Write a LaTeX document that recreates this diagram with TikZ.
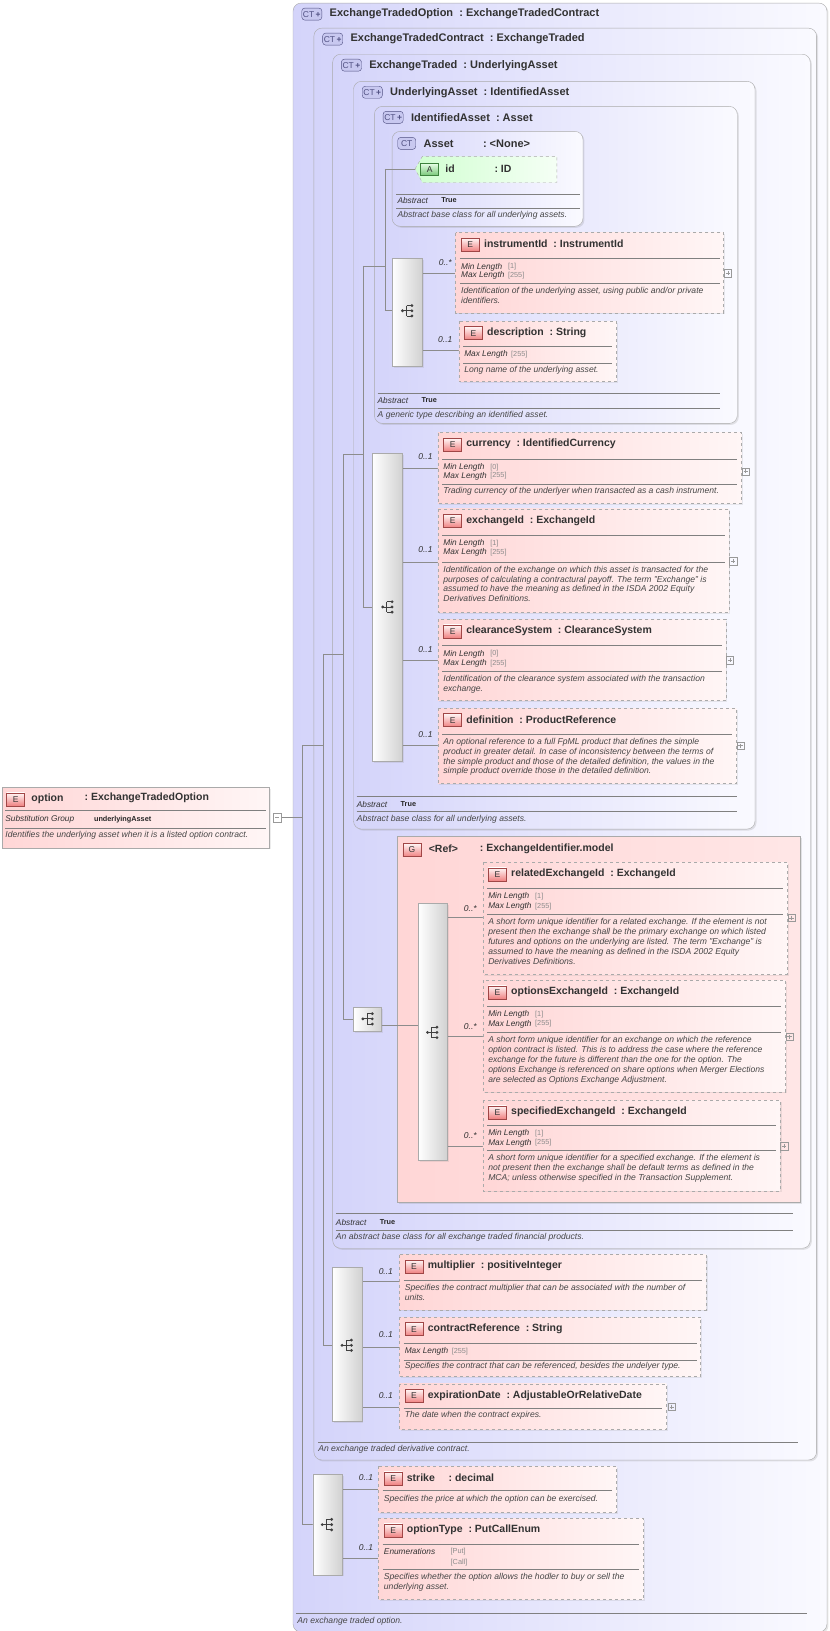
\documentclass[tikz,border=0pt]{standalone}
\usepackage{fontspec}
\setmainfont{Liberation Sans}
\usetikzlibrary{shadows}
\definecolor{lav}{RGB}{212,212,250}
\definecolor{lavR}{RGB}{250,250,255}
\definecolor{pinkL}{RGB}{255,214,214}
\definecolor{pinkR}{RGB}{255,246,246}
\definecolor{txt}{RGB}{50,50,50}
\definecolor{dtxt}{RGB}{70,70,70}
\definecolor{bdr}{RGB}{170,170,170}
\definecolor{ctb}{RGB}{200,200,240}
\definecolor{ctd}{RGB}{80,80,130}
\definecolor{eb}{RGB}{240,130,130}
\definecolor{ebd}{RGB}{160,70,70}
\definecolor{gb}{RGB}{120,200,120}
\definecolor{gbd}{RGB}{60,130,60}
\newcommand{\ctbox}[6]{%
  \draw[cont] (#1,#2) rectangle (#3,#4);
  \node[ctbadge] (#5b) at (#1+18,#2+10.5) {CT\,{\bfseries\textcolor{ctd}{+}}};
  \node[ctitle] (#5) at (#1+35,#2+10.5) {#6};}
\newcommand{\ebox}[6]{%
  \draw[elem] (#1,#2) rectangle (#3,#4);
  \node[ebadge] (#5b) at (#1+14,#2+11.5) {E};
  \node[etitle] (#5) at (#1+27,#2+11) {#6};}
\newcommand{\sepl}[3]{\draw[sepline] (#1,#3) -- (#2,#3);}
\newcommand{\prp}[5]{\node[propk] (#5k) at (#1+5,#2) {#3};\node[propv] (#5v) at (#1+50,#2) {#4};}
\newcommand{\dsc}[4]{\node[desc] (#4) at (#1+5,#2-4.5) {#3};}
\newcommand{\mlt}[4]{\node[mult] (#4) at (#1,#2) {#3};}
\newcommand{\pbtn}[2]{\draw[btn] (#1-3.5,#2-3.5) rectangle (#1+3.5,#2+3.5); \draw[btn] (#1-2,#2)--(#1+2,#2) (#1,#2-2)--(#1,#2+2);}
\newcommand{\abst}[3]{\node[propk] (#3a) at (#1,#2) {Abstract}; \node[truev] (#3t) at (#1+42,#2) {True};}
\newcommand{\sqbox}[6]{%
  \draw[seq] (#1,#2) rectangle (#3,#4);
  \coordinate (#6) at (#5);
  \fill[black!75] ($(#6)+(-5,0)$) circle (1.5);
  \draw[black!75,line width=0.8pt] ($(#6)+(-5,0)$) -- ($(#6)+(-1,0)$) ($(#6)+(-1,-5)$) -- ($(#6)+(-1,5)$)
     ($(#6)+(-1,-5)$) -- ($(#6)+(4,-5)$) ($(#6)+(-1,0)$) -- ($(#6)+(4,0)$) ($(#6)+(-1,5)$) -- ($(#6)+(4,5)$);
  \fill[black!75] ($(#6)+(4,-5)$) circle (1.5) ($(#6)+(4,0)$) circle (1.5) ($(#6)+(4,5)$) circle (1.5);}
\usetikzlibrary{calc}
\begin{document}
\begin{tikzpicture}[x=1.043pt,y=-1.043pt,
  cont/.style={rounded corners=8pt,draw=bdr,left color=lav,right color=lavR,drop shadow={opacity=0.2,shadow xshift=1.5pt,shadow yshift=-1.5pt}},
  elem/.style={dashed,draw=bdr,line width=0.6pt,left color=pinkL,right color=pinkR,drop shadow={opacity=0.15,shadow xshift=1.5pt,shadow yshift=-1.5pt}},
  seq/.style={draw=bdr,left color=white,right color=black!18,drop shadow={opacity=0.15,shadow xshift=1.5pt,shadow yshift=-1.5pt}},
  ctbadge/.style={draw=ctd,rounded corners=3pt,fill=ctb,font=\fontsize{8.5}{9}\selectfont,text=ctd,inner sep=1.2pt,minimum height=12pt},
  ebadge/.style={draw=ebd,top color=pinkR,bottom color=eb,font=\fontsize{8.5}{9}\selectfont,text=txt,minimum width=18pt,minimum height=13pt,inner sep=0pt},
  ctitle/.style={anchor=west,font=\fontsize{11}{13}\selectfont\bfseries,text=txt,inner sep=0pt},
  etitle/.style={anchor=west,font=\fontsize{10.5}{12}\selectfont\bfseries,text=txt,inner sep=0pt},
  sepline/.style={draw=black!50,line width=0.5pt},
  propk/.style={anchor=west,font=\fontsize{8.3}{10}\selectfont\itshape,text=txt,inner sep=0pt},
  propv/.style={anchor=west,font=\fontsize{7.3}{10}\selectfont,text=black!45,inner sep=0pt},
  truev/.style={anchor=west,font=\fontsize{7.3}{10}\selectfont\bfseries,text=black!85,inner sep=0pt},
  desc/.style={anchor=north west,align=left,font=\fontsize{8.6}{9.9}\selectfont\itshape,text=dtxt,inner sep=0pt},
  mult/.style={font=\fontsize{8.5}{10}\selectfont\itshape,text=txt,inner sep=0pt},
  btn/.style={draw=black!40,line width=0.4pt},
  conn/.style={draw=black!45,line width=0.6pt}]
\useasboundingbox (0,0) rectangle (795,1564);
\fill[white] (0,0) rectangle (795,1564);
% containers
\ctbox{281}{3}{793}{1565}{c1}{ExchangeTradedOption\ \ :\ ExchangeTradedContract}
\ctbox{301}{27}{783}{1400}{c2}{ExchangeTradedContract\ \ :\ ExchangeTraded}
\ctbox{319}{52}{777}{1197}{c3}{ExchangeTraded\ \ :\ UnderlyingAsset}
\ctbox{339}{78}{724}{795}{c4}{UnderlyingAsset\ \ :\ IdentifiedAsset}
\ctbox{359}{102}{707}{406}{c5}{IdentifiedAsset\ \ :\ Asset}
% Asset
\draw[cont] (376,126) rectangle (559,217);
\node[ctbadge,minimum width=18pt] (assetb) at (390,137.5) {CT};
\node[ctitle] (asset) at (406,137.5) {Asset};
\node[ctitle] (assett) at (463,137.5) {:\ <None>};
\sepl{380}{556}{186}\sepl{380}{556}{200}
\abst{381}{192}{as}\dsc{376}{207}{Abstract base class for all underlying assets.}{asd}
% footers
\sepl{362}{690}{377}\sepl{362}{690}{391}\abst{362}{384}{c5}\dsc{357}{399}{A generic type describing an identified asset.}{c5d}
\sepl{342}{707}{764}\sepl{342}{707}{778}\abst{342}{771}{c4}\dsc{337}{786}{Abstract base class for all underlying assets.}{c4d}
\sepl{322}{760}{1163}\sepl{322}{760}{1180}\abst{322}{1172}{c3}\dsc{317}{1187}{An abstract base class for all exchange traded financial products.}{c3d}
\sepl{305}{765}{1383}\dsc{300}{1390}{An exchange traded derivative contract.}{c2d}
\sepl{284}{774}{1547}\dsc{280}{1555}{An exchange traded option.}{c1d}
% tree connectors
\coordinate (j0) at (290,784);
\draw[conn] (270,784) -- (j0) (290,715) -- (290,1462) (290,715) -- (310,715) (290,1462) -- (300,1462);
\draw[conn] (310,627) -- (310,1290) (310,627) -- (329,627) (310,1290) -- (319,1290);
\draw[conn] (329,436) -- (329,977) (329,436) -- (348,436) (329,977) -- (339,977);
\draw[conn] (348,255) -- (348,582) (348,255) -- (369,255) (348,582) -- (357,582);
\draw[conn] (369,162) -- (369,298) (369,162) -- (398,162) (369,298) -- (376,298);
\draw[conn] (405,262) -- (437,262) (405,336) -- (440,336);
\draw[conn] (386,449) -- (420,449) (386,539) -- (420,539) (386,633) -- (420,633) (386,715) -- (420,715);
\draw[conn] (347,1229) -- (383,1229) (347,1292) -- (383,1292) (347,1349) -- (383,1349);
\draw[conn] (328,1428) -- (363,1428) (328,1494) -- (363,1494);
% id attribute
\draw[dashed,draw=bdr,left color=green!18,right color=green!4] (398,162) -- (405,150) -- (534,150) -- (534,175) -- (405,175) -- cycle;
\node[draw=gbd,top color=green!10,bottom color=gb,font=\fontsize{8.5}{9}\selectfont,text=txt,minimum width=18pt,minimum height=12pt,inner sep=0pt] (idb) at (412,162.5) {A};
\node[etitle] (id) at (427,162) {id};
\node[etitle] (idt) at (474,162) {:\ ID};
% option element
\draw[draw=bdr,left color=pinkL,right color=pinkR,drop shadow={opacity=0.15,shadow xshift=1.5pt,shadow yshift=-1.5pt}] (2,755) rectangle (258,813);
\node[ebadge] (optb) at (15,766.5) {E};
\node[etitle] (opt) at (30,765.5) {option};
\node[etitle] (optt) at (81,765.5) {:\ ExchangeTradedOption};
\sepl{5}{255}{777}\sepl{5}{255}{794}
\node[propk] (sg) at (5,786) {Substitution Group};
\node[truev] (sgv) at (90,786) {underlyingAsset};
\dsc{0}{801.5}{Identifies the underlying asset when it is a listed option contract.}{optd}
\draw[btn] (262,780) rectangle (270,788); \draw[btn] (264,784) -- (268,784);
% seq 1
\sqbox{376}{248}{405}{351}{391,298}{s1}
\ebox{437}{223}{694}{300}{e1}{instrumentId\ \ :\ InstrumentId}
\sepl{441}{690}{248}\prp{437}{256}{Min Length}{[1]}{e1a}\prp{437}{264.5}{Max Length}{[255]}{e1b}\sepl{441}{690}{272}
\dsc{437}{280}{Identification of the underlying asset, using public and/or private\\identifiers.}{e1d}
\pbtn{698}{262}\mlt{427}{252}{0..*}{m1}
\ebox{440}{308}{591}{366}{e2}{description\ \ :\ String}
\sepl{444}{587}{332}\prp{440}{340}{Max Length}{[255]}{e2a}\sepl{444}{587}{348}
\dsc{440}{356}{Long name of the underlying asset.}{e2d}\mlt{427}{326}{0..1}{m2}
% seq 2
\sqbox{357}{435}{386}{730}{372,582}{s2}
\ebox{420}{415}{711}{483}{e3}{currency\ \ :\ IdentifiedCurrency}
\sepl{424}{707}{440}\prp{420}{448}{Min Length}{[0]}{e3a}\prp{420}{456.5}{Max Length}{[255]}{e3b}\sepl{424}{707}{464}
\dsc{420}{472}{Trading currency of the underlyer when transacted as a cash instrument.}{e3d}
\pbtn{715}{452}\mlt{408}{438}{0..1}{m3}
\ebox{420}{488}{699}{587}{e4}{exchangeId\ \ :\ ExchangeId}
\sepl{424}{695}{513}\prp{420}{521}{Min Length}{[1]}{e4a}\prp{420}{530}{Max Length}{[255]}{e4b}\sepl{424}{695}{539}
\dsc{420}{547}{Identification of the exchange on which this asset is transacted for the\\purposes of calculating a contractural payoff. The term "Exchange" is\\assumed to have the meaning as defined in the ISDA 2002 Equity\\Derivatives Definitions.}{e4d}
\pbtn{703}{538}\mlt{408}{527}{0..1}{m4}
\ebox{420}{594}{696}{672}{e5}{clearanceSystem\ \ :\ ClearanceSystem}
\sepl{424}{692}{619}\prp{420}{627}{Min Length}{[0]}{e5a}\prp{420}{636}{Max Length}{[255]}{e5b}\sepl{424}{692}{644}
\dsc{420}{652}{Identification of the clearance system associated with the transaction\\exchange.}{e5d}
\pbtn{700}{633}\mlt{408}{623}{0..1}{m5}
\ebox{420}{679}{706}{751}{e6}{definition\ \ :\ ProductReference}
\sepl{424}{702}{704}
\dsc{420}{712}{An optional reference to a full FpML product that defines the simple\\product in greater detail. In case of inconsistency between the terms of\\the simple product and those of the detailed definition, the values in the\\simple product override those in the detailed definition.}{e6d}
\pbtn{710}{715}\mlt{408}{704}{0..1}{m6}
% group
\draw[draw=bdr,left color=pinkL,right color=pinkL!60!white,drop shadow={opacity=0.2,shadow xshift=2pt,shadow yshift=-2pt}] (381,802) rectangle (767,1153);
\node[ebadge] (gb) at (395,815) {G};
\node[etitle] (g) at (411,814) {<Ref>};
\node[etitle] (gt) at (460,814) {:\ ExchangeIdentifier.model};
\sqbox{339}{966}{366}{989}{353,977}{s3}
\draw[conn] (366,983) -- (401,983) (429,880) -- (463,880) (429,994) -- (463,994) (429,1099) -- (463,1099);
\sqbox{401}{866}{429}{1113}{415,990}{s4}
\ebox{463}{827}{755}{934}{e7}{relatedExchangeId\ \ :\ ExchangeId}
\sepl{467}{751}{852}\prp{463}{860}{Min Length}{[1]}{e7a}\prp{463}{869}{Max Length}{[255]}{e7b}\sepl{467}{751}{877}
\dsc{463}{885}{A short form unique identifier for a related exchange. If the element is not\\present then the exchange shall be the primary exchange on which listed\\futures and options on the underlying are listed. The term "Exchange" is\\assumed to have the meaning as defined in the ISDA 2002 Equity\\Derivatives Definitions.}{e7d}
\pbtn{759}{880}\mlt{451}{871}{0..*}{m7}
\ebox{463}{940}{753}{1047}{e8}{optionsExchangeId\ \ :\ ExchangeId}
\sepl{467}{749}{965}\prp{463}{973}{Min Length}{[1]}{e8a}\prp{463}{982}{Max Length}{[255]}{e8b}\sepl{467}{749}{990}
\dsc{463}{998}{A short form unique identifier for an exchange on which the reference\\option contract is listed. This is to address the case where the reference\\exchange for the future is different than the one for the option. The\\options Exchange is referenced on share options when Merger Elections\\are selected as Options Exchange Adjustment.}{e8d}
\pbtn{757}{994}\mlt{451}{984}{0..*}{m8}
\ebox{463}{1055}{748}{1142}{e9}{specifiedExchangeId\ \ :\ ExchangeId}
\sepl{467}{744}{1079}\prp{463}{1087}{Min Length}{[1]}{e9a}\prp{463}{1096}{Max Length}{[255]}{e9b}\sepl{467}{744}{1103}
\dsc{463}{1111}{A short form unique identifier for a specified exchange. If the element is\\not present then the exchange shall be default terms as defined in the\\MCA; unless otherwise specified in the Transaction Supplement.}{e9d}
\pbtn{752}{1099}\mlt{451}{1089}{0..*}{m9}
% seq 5
\sqbox{319}{1215}{347}{1363}{333,1290}{s5}
\ebox{383}{1203}{677}{1256}{e10}{multiplier\ \ :\ positiveInteger}
\sepl{387}{673}{1228}
\dsc{383}{1236}{Specifies the contract multiplier that can be associated with the number of\\units.}{e10d}\mlt{370}{1219}{0..1}{m10}
\ebox{383}{1263}{672}{1320}{e11}{contractReference\ \ :\ String}
\sepl{387}{668}{1288}\prp{383}{1296}{Max Length}{[255]}{e11a}\sepl{387}{668}{1304}
\dsc{383}{1311}{Specifies the contract that can be referenced, besides the undelyer type.}{e11d}\mlt{370}{1280}{0..1}{m11}
\ebox{383}{1327}{639}{1371}{e12}{expirationDate\ \ :\ AdjustableOrRelativeDate}
\sepl{387}{635}{1350}
\dsc{383}{1358}{The date when the contract expires.}{e12d}\pbtn{644}{1349}\mlt{370}{1338}{0..1}{m12}
% seq 6
\sqbox{300}{1414}{328}{1510}{314,1462}{s6}
\ebox{363}{1406}{591}{1450}{e13}{strike}
\node[etitle] (e13t) at (430,1417) {:\ decimal};
\sepl{367}{587}{1429}
\dsc{363}{1438}{Specifies the price at which the option can be exercised.}{e13d}\mlt{351}{1417}{0..1}{m13}
\ebox{363}{1456}{617}{1534}{e14}{optionType\ \ :\ PutCallEnum}
\sepl{367}{613}{1481}
\node[propk] (e14k) at (368,1488) {Enumerations};
\node[propv] (e14v1) at (432,1488) {[Put]};
\node[propv] (e14v2) at (432,1498) {[Call]};
\sepl{367}{613}{1505}
\dsc{363}{1513}{Specifies whether the option allows the hodler to buy or sell the\\underlying asset.}{e14d}\mlt{351}{1484}{0..1}{m14}
\end{tikzpicture}
\end{document}
